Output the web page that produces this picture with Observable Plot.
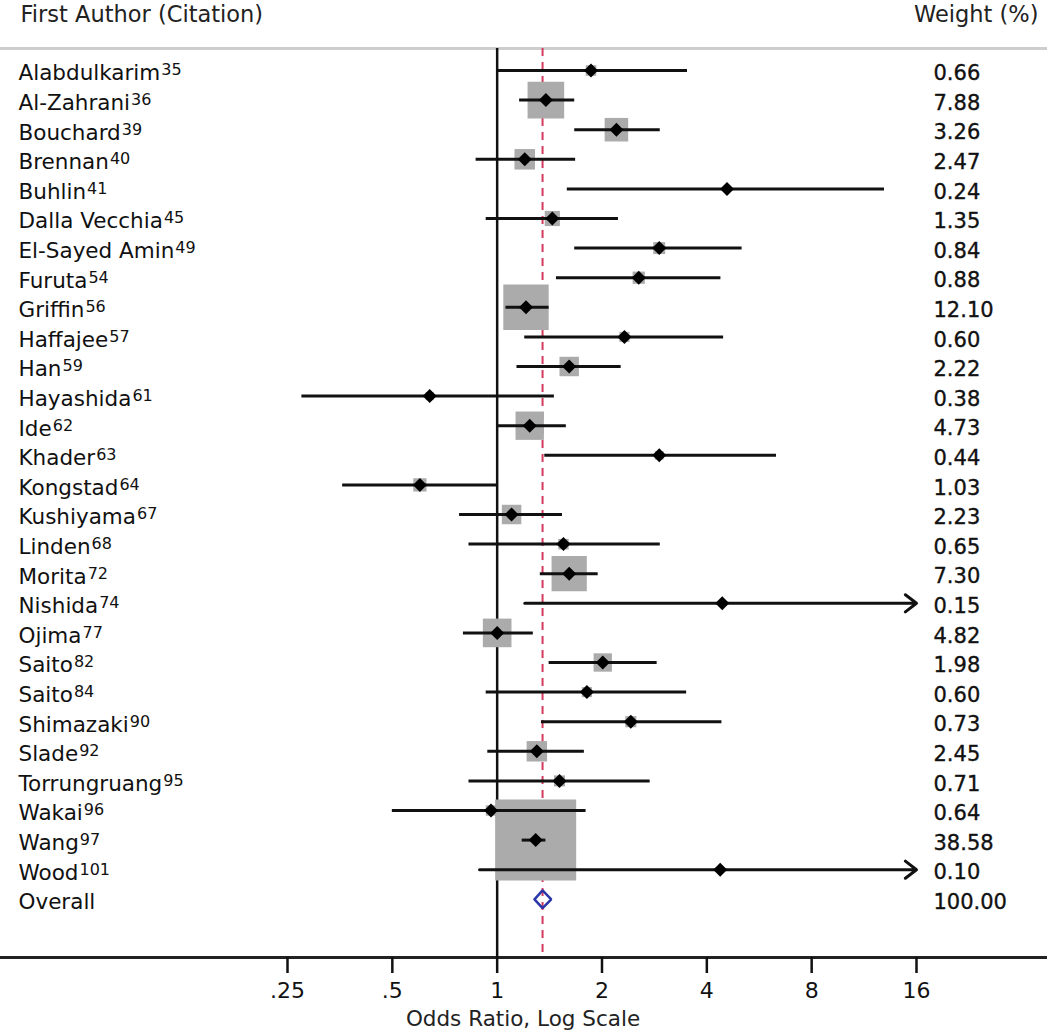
<!DOCTYPE html>
<html>
<head>
<meta charset="utf-8">
<script src="https://cdn.jsdelivr.net/npm/d3@7"></script>
<script src="https://cdn.jsdelivr.net/npm/@observablehq/plot@0.6"></script>
<style>
  html, body { margin: 0; padding: 0; background: #fff; }
  #chart svg { display: block; }
</style>
</head>
<body>
<div id="chart"></div>
<script>
// ---- Data ----
const authors = ["Alabdulkarim","Al-Zahrani","Bouchard","Brennan","Buhlin","Dalla Vecchia","El-Sayed Amin","Furuta","Griffin","Haffajee","Han","Hayashida","Ide","Khader","Kongstad","Kushiyama","Linden","Morita","Nishida","Ojima","Saito","Saito","Shimazaki","Slade","Torrungruang","Wakai","Wang","Wood"];
const citations = [35,36,39,40,41,45,49,54,56,57,59,61,62,63,64,67,68,72,74,77,82,84,90,92,95,96,97,101];
const oddsRatios = [1.86,1.38,2.20,1.20,4.57,1.44,2.92,2.55,1.21,2.32,1.61,0.64,1.24,2.92,0.60,1.10,1.55,1.61,4.43,1.00,2.01,1.81,2.42,1.30,1.51,0.96,1.29,4.37];
const ciLower = [1.00,1.16,1.67,0.87,1.59,0.93,1.67,1.48,1.06,1.20,1.14,0.275,1.00,1.37,0.36,0.78,0.83,1.33,1.20,0.80,1.41,0.93,1.34,0.94,0.83,0.50,1.18,0.89];
const ciUpper = [3.52,1.67,2.94,1.68,12.95,2.23,5.05,4.39,1.41,4.47,2.27,1.46,1.58,6.34,1.00,1.54,2.94,1.95,16.5,1.27,2.88,3.50,4.42,1.78,2.75,1.80,1.38,21.5];
const weights = [0.66,7.88,3.26,2.47,0.24,1.35,0.84,0.88,12.10,0.60,2.22,0.38,4.73,0.44,1.03,2.23,0.65,7.30,0.15,4.82,1.98,0.60,0.73,2.45,0.71,0.64,38.58,0.10];
const overallLabel = "Overall";
const overallOR = 1.35, overallLower = 1.28, overallUpper = 1.43, overallWeight = 100.00;
const xTicks = [0.25, 0.5, 1, 2, 4, 8, 16];
const headerLeft = "First Author (Citation)";
const headerRight = "Weight (%)";
const xLabel = "Odds Ratio, Log Scale";

// ---- Build table ----
const rows = authors.map((a, i) => ({author: a, cite: citations[i], or: oddsRatios[i], lo: ciLower[i], hi: ciUpper[i], w: weights[i], row: i}));
const overallRow = rows.length;
const overall = {author: overallLabel, or: overallOR, lo: overallLower, hi: overallUpper, w: overallWeight, row: overallRow};
const axisMax = xTicks[xTicks.length - 1];
const h = 0.3;
const diamond = [
  {x: overall.lo, y: overall.row},
  {x: overall.or, y: overall.row - h},
  {x: overall.hi, y: overall.row},
  {x: overall.or, y: overall.row + h},
  {x: overall.lo, y: overall.row}
];
const fmt = d => d < 1 ? String(d).replace(/^0/, "") : String(d);
const FONT = "DejaVu Sans";

const svg = Plot.plot({
  width: 1050,
  height: 1035,
  marginTop: 48,
  marginBottom: 78,
  marginLeft: 0,
  marginRight: 5,
  style: {fontFamily: FONT, fontSize: "21px", background: "white", color: "#111", overflow: "visible"},
  x: {type: "log", base: 2, domain: [0.25, 16], range: [287, 916]},
  y: {type: "linear", domain: [0, overallRow], range: [70, 70 + 29.6 * overallRow], axis: null},
  r: {type: "sqrt", domain: [0, d3.max(weights)], range: [0, 45.7]},
  marks: [
    Plot.frame({anchor: "top", stroke: "#cdcdcd", strokeWidth: 3}),
    Plot.frame({anchor: "bottom", stroke: "#222", strokeWidth: 3}),
    Plot.ruleX([1], {stroke: "#111", strokeWidth: 2.5}),
    Plot.ruleX([overallOR], {stroke: "#d23a5e", strokeWidth: 2, strokeDasharray: "8,6"}),
    Plot.dot(rows, {x: "or", y: "row", r: "w", symbol: "square", fill: "#ababab", stroke: null}),
    Plot.ruleY(rows.filter(d => d.hi <= axisMax), {y: "row", x1: "lo", x2: "hi", stroke: "#111", strokeWidth: 3}),
    Plot.arrow(rows.filter(d => d.hi > axisMax), {x1: "lo", x2: d => Math.min(d.hi, axisMax), y1: "row", y2: "row", stroke: "#111", strokeWidth: 3, headLength: 7, headAngle: 75}),
    Plot.dot(rows, {x: "or", y: "row", r: 6.3, symbol: "diamond2", fill: "#000", stroke: null}),
    Plot.line(diamond, {x: "x", y: "y", stroke: "#2b37a8", strokeWidth: 2.5, strokeLinejoin: "miter"}),
    Plot.text(rows, {y: "row", text: "author", frameAnchor: "left", dx: 18, dy: 3, textAnchor: "start", fontSize: 21.5, fill: "#111"}),
    Plot.text([overall], {y: "row", text: "author", frameAnchor: "left", dx: 18, dy: 3, textAnchor: "start", fontSize: 21.5, fill: "#111"}),
    Plot.text([...rows, overall], {y: "row", text: d => d.w.toFixed(2), frameAnchor: "left", dx: 933, dy: 3, textAnchor: "start", fontSize: 21, fill: "#111", stroke: "#111", strokeWidth: 0.35}),
    Plot.text([headerLeft], {frameAnchor: "top-left", lineAnchor: "middle", dx: 20, dy: -34, textAnchor: "start", fontSize: 22.5, fill: "#222"}),
    Plot.text([headerRight], {frameAnchor: "top-right", lineAnchor: "middle", dx: -7, dy: -34, textAnchor: "end", fontSize: 22.5, fill: "#222"}),
    Plot.axisX({anchor: "bottom", ticks: xTicks, tickFormat: fmt, tickSize: 16, tickPadding: 9, fontSize: 22, strokeWidth: 2.5, label: null}),
    Plot.text([xLabel], {frameAnchor: "bottom", lineAnchor: "middle", dy: 62, fontSize: 21.5, fill: "#222"})
  ]
});

// superscript citation numbers after author names
d3.select(svg).selectAll("g").each(function() {
  const texts = Array.from(this.children).filter(el => el.tagName === "text");
  if (texts.length === rows.length && texts[0].textContent === authors[0]) {
    texts.forEach((t, i) => {
      d3.select(t).append("tspan").attr("dx", 1).attr("dy", -5).attr("font-size", 16).text(rows[i].cite);
    });
  }
});

document.getElementById("chart").appendChild(svg);
</script>
</body>
</html>
